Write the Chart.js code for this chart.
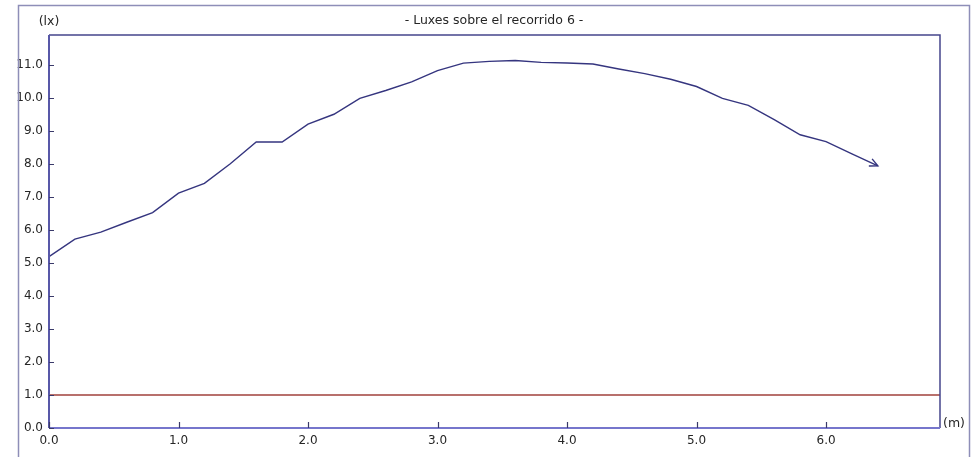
<!DOCTYPE html>
<html>
<head>
<meta charset="utf-8">
<script src="https://cdn.jsdelivr.net/npm/chart.js@4.4.1/dist/chart.umd.min.js"></script>
<style>
  html, body { margin: 0; padding: 0; background: #ffffff; }
  #wrap { width: 979px; height: 457px; position: relative; }
</style>
</head>
<body>
<div id="wrap"><canvas id="c" width="979" height="457"></canvas></div>
<script>
// Illuminance along route 6, sampled every 0.2 m
const distances = [0.0, 0.2, 0.4, 0.6, 0.8, 1.0, 1.2, 1.4, 1.6, 1.8, 2.0, 2.2, 2.4, 2.6, 2.8, 3.0, 3.2,
                   3.4, 3.6, 3.8, 4.0, 4.2, 4.4, 4.6, 4.8, 5.0, 5.2, 5.4, 5.6, 5.8, 6.0, 6.2, 6.4];
const luxValues = [5.19, 5.72, 5.93, 6.23, 6.52, 7.11, 7.41, 8.0, 8.66, 8.66, 9.2, 9.5, 9.98, 10.22, 10.48, 10.82, 11.05,
                   11.1, 11.13, 11.07, 11.05, 11.02, 10.87, 10.73, 10.56, 10.34, 9.98, 9.77, 9.34, 8.88, 8.67, 8.3, 7.94];
const minimumLux = 1.0;
const xTickValues = [0, 1, 2, 3, 4, 5, 6];
const yTickValues = [0, 1, 2, 3, 4, 5, 6, 7, 8, 9, 10, 11];
const X_MAX = 6.88;
const Y_MAX = 11.9;
const titleText = '- Luxes sobre el recorrido 6 -';
const yUnit = '(lx)';
const xUnit = '(m)';

const FONT = '"DejaVu Sans", Verdana, sans-serif';
const TEXT_COLOR = '#262626';

const curvePoints = distances.map((d, i) => ({ x: d, y: luxValues[i] }));
const minimumPoints = [{ x: 0, y: minimumLux }, { x: X_MAX, y: minimumLux }];

// Frame, inward tick marks, unit labels, title and arrowhead
const decorations = {
  id: 'decorations',
  afterDraw(chart) {
    const ctx = chart.ctx;
    const a = chart.chartArea;
    const xs = chart.scales.x, ys = chart.scales.y;
    ctx.save();

    // outer frame
    ctx.strokeStyle = '#8e8eb8';
    ctx.lineWidth = 1.5;
    ctx.strokeRect(18.5, 5.5, 951, 470);

    // plot frame: top and right
    ctx.strokeStyle = '#45458c';
    ctx.lineWidth = 1.5;
    ctx.beginPath();
    ctx.moveTo(a.left, a.top);
    ctx.lineTo(a.right, a.top);
    ctx.lineTo(a.right, a.bottom);
    ctx.stroke();

    // left axis
    ctx.strokeStyle = '#5858a8';
    ctx.lineWidth = 2;
    ctx.beginPath();
    ctx.moveTo(a.left, a.top);
    ctx.lineTo(a.left, a.bottom);
    ctx.stroke();

    // bottom axis
    ctx.strokeStyle = '#7676cc';
    ctx.beginPath();
    ctx.moveTo(a.left, a.bottom);
    ctx.lineTo(a.right, a.bottom);
    ctx.stroke();

    // tick marks pointing into the plot
    ctx.strokeStyle = '#3a3a6a';
    ctx.lineWidth = 1.2;
    ctx.beginPath();
    yTickValues.forEach(v => {
      const py = Math.round(ys.getPixelForValue(v)) + 0.5;
      ctx.moveTo(a.left, py);
      ctx.lineTo(a.left + 5, py);
    });
    xTickValues.forEach(v => {
      const px = Math.round(xs.getPixelForValue(v)) + 0.5;
      ctx.moveTo(px, a.bottom);
      ctx.lineTo(px, a.bottom - 6);
    });
    ctx.stroke();

    // arrowhead at the end of the curve
    const n = curvePoints.length;
    const p1 = curvePoints[n - 2], p2 = curvePoints[n - 1];
    const x1 = xs.getPixelForValue(p1.x), y1 = ys.getPixelForValue(p1.y);
    const x2 = xs.getPixelForValue(p2.x), y2 = ys.getPixelForValue(p2.y);
    const ang = Math.atan2(y2 - y1, x2 - x1);
    const len = 9, spread = 0.45;
    ctx.strokeStyle = '#35357f';
    ctx.lineWidth = 1.4;
    ctx.beginPath();
    ctx.moveTo(x2 - len * Math.cos(ang - spread), y2 - len * Math.sin(ang - spread));
    ctx.lineTo(x2, y2);
    ctx.lineTo(x2 - len * Math.cos(ang + spread), y2 - len * Math.sin(ang + spread));
    ctx.stroke();

    // texts
    ctx.fillStyle = TEXT_COLOR;
    ctx.font = '12.5px ' + FONT;
    ctx.textBaseline = 'middle';
    ctx.textAlign = 'center';
    ctx.fillText(titleText, 494, 21);
    ctx.fillText(yUnit, a.left, 22);
    ctx.textAlign = 'left';
    ctx.fillText(xUnit, a.right + 3, a.bottom - 4);

    ctx.restore();
  }
};

new Chart(document.getElementById('c'), {
  type: 'line',
  data: {
    datasets: [
      {
        data: curvePoints,
        borderColor: '#35357f',
        borderWidth: 1.4,
        pointRadius: 0,
        tension: 0,
        fill: false
      },
      {
        data: minimumPoints,
        borderColor: '#b8706c',
        borderWidth: 2,
        pointRadius: 0,
        tension: 0,
        fill: false
      }
    ]
  },
  options: {
    responsive: false,
    animation: false,
    layout: { padding: { left: 0, top: 35, right: 39, bottom: 0 } },
    plugins: {
      legend: { display: false },
      title: { display: false },
      tooltip: { enabled: false }
    },
    scales: {
      x: {
        type: 'linear',
        min: 0,
        max: X_MAX,
        afterFit(scale) { scale.height = 29; },
        afterBuildTicks(scale) { scale.ticks = xTickValues.map(v => ({ value: v })); },
        border: { display: false },
        grid: { display: true, drawOnChartArea: false, drawTicks: false, color: 'rgba(0,0,0,0)' },
        ticks: {
          padding: 6,
          color: TEXT_COLOR,
          font: { family: FONT, size: 12 },
          callback: v => v.toFixed(1)
        }
      },
      y: {
        type: 'linear',
        min: 0,
        max: Y_MAX,
        afterFit(scale) { scale.width = 49; },
        afterBuildTicks(scale) { scale.ticks = yTickValues.map(v => ({ value: v })); },
        border: { display: false },
        grid: { display: true, drawOnChartArea: false, drawTicks: false, color: 'rgba(0,0,0,0)' },
        ticks: {
          padding: 6,
          color: TEXT_COLOR,
          font: { family: FONT, size: 12 },
          callback: v => v.toFixed(1)
        }
      }
    }
  },
  plugins: [decorations]
});
</script>
</body>
</html>
